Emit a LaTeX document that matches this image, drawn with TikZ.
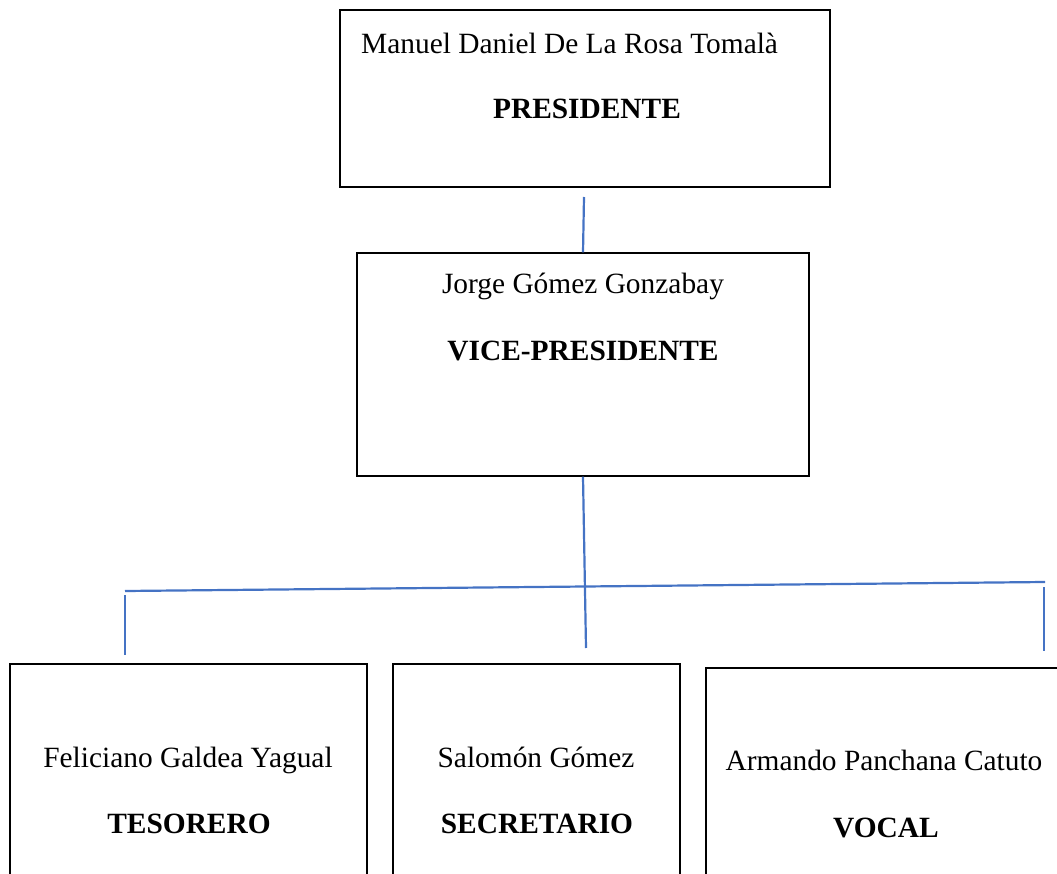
\documentclass[tikz,border=0pt]{standalone}
\usepackage{fontspec}
\setmainfont{Liberation Serif}
\usetikzlibrary{positioning}

\begin{document}
\begin{tikzpicture}[x=1pt,y=-1pt,
	box/.style={draw=black,line width=1.3pt,fill=white,inner sep=0pt},
	who/.style={anchor=base,inner sep=0pt,font=\fontsize{29.4}{34}\selectfont},
	role/.style={anchor=base,inner sep=0pt,font=\fontsize{29.4}{34}\selectfont\bfseries},
	link/.style={draw=linkblue,line width=2.2pt}]
  \definecolor{linkblue}{rgb}{0.27,0.45,0.77};
	\useasboundingbox (0,0) rectangle (1057,874);
	\clip (0,0) rectangle (1057,874);
	% boxes
	\node [box,minimum width=490pt,minimum height=177pt] (pres) at (585,98.5) {};
	\node [box,minimum width=452pt,minimum height=223pt] (vp) at (583,364.5) {};
	\node [box,minimum width=357pt,minimum height=260pt] (tes) at (188.5,794) {};
	\node [box,minimum width=287pt,minimum height=260pt] (sec) at (536.5,794) {};
	\node [box,minimum width=364pt,minimum height=260pt] (voc) at (888,798) {};
	% texts
	\node [who,anchor=base west] (presname) at (361,54) {Manuel Daniel De La Rosa Tomalà};
	\node [role] (presrole) at (587,119) {PRESIDENTE};
	\node [who] (vpname) at (583,294) {Jorge Gómez Gonzabay};
	\node [role] (vprole) at (583,360) {VICE-PRESIDENTE};
	\node [who] (tesname) at (188,767) {Feliciano Galdea Yagual};
	\node [role] (tesrole) at (189,833) {TESORERO};
	\node [who] (secname) at (536,767) {Salomón Gómez};
	\node [role] (secrole) at (537,833) {SECRETARIO};
	\node [who] (vocname) at (884,770) {Armando Panchana Catuto};
	\node [role] (vocrole) at (886,837) {VOCAL};
	% connectors
	\coordinate (presfoot) at (584,197);
	\coordinate (vpfoot) at (586,648);
	\coordinate (barl) at (125,591);
	\coordinate (barr) at (1045,582);
	\coordinate (tesdrop) at (125,595);
	\coordinate (tesend) at (125,655);
	\coordinate (vocdrop) at (1044,587);
	\coordinate (vocend) at (1044,651);
	\draw [link] (presfoot) -- (vp.north);
	\draw [link] (vp.south) -- (vpfoot);
	\draw [link] (barl) -- (barr);
	\draw [link] (tesdrop) -- (tesend);
	\draw [link] (vocdrop) -- (vocend);
\end{tikzpicture}
\end{document}
